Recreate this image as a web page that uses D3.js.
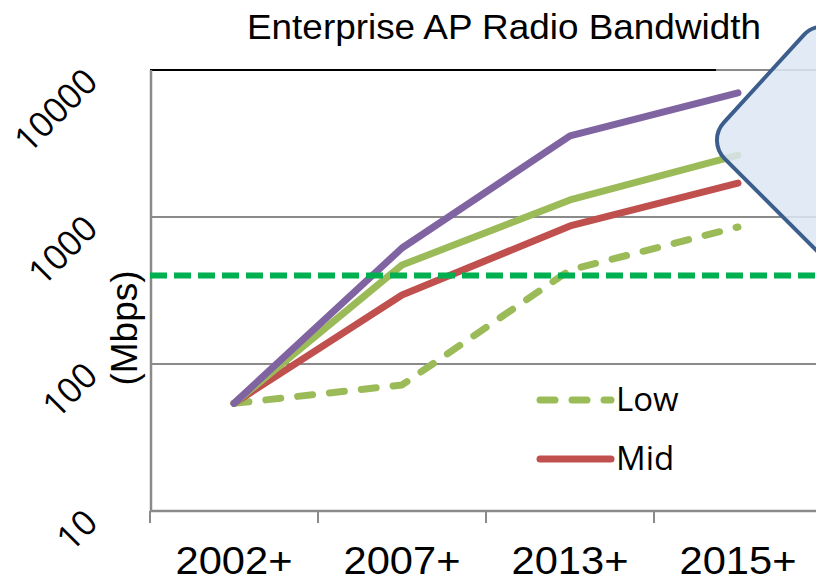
<!DOCTYPE html>
<html>
<head>
<meta charset="utf-8">
<script src="https://cdn.jsdelivr.net/npm/d3@7"></script>
<style>
  body { margin: 0; background: #fff; }
  text { fill: #000; }
</style>
</head>
<body>
<svg id="chart" width="816" height="580"></svg>
<script>
// Data (Mbps, log scale)
const years = ["2002+", "2007+", "2013+", "2015+"];
const lowValues = [54, 72, 436, 855];
const midValues = [54, 295, 869, 1700];
const highValues = [54, 471, 1306, 2640];
const topValues = [54, 615, 3560, 7000];
const referenceLevel = 400;
const yTicks = [10, 100, 1000, 10000];
const legendNames = ["Low", "Mid"];

const svg = d3.select("#chart");

// Scales
const x = d3.scaleBand().domain(years).range([150, 822]);
const y = d3.scaleLog().domain([10, 10000]).range([511, 70]);
const cx = d => x(d) + x.bandwidth() / 2;

// Title (slightly stretched like the original)
svg.append("text")
  .attr("x", 504).attr("y", 39)
  .attr("text-anchor", "middle")
  .attr("textLength", 514)
  .attr("lengthAdjust", "spacingAndGlyphs")
  .style("font-family", "Liberation Sans, Arial, sans-serif")
  .style("font-size", "35px")
  .text("Enterprise AP Radio Bandwidth");

// Gridlines
svg.selectAll(".grid")
  .data(yTicks.slice(1))
  .enter().append("line")
  .attr("class", "grid")
  .attr("x1", 150).attr("x2", 816)
  .attr("y1", d => y(d)).attr("y2", d => y(d))
  .attr("stroke", "#8a8a8a").attr("stroke-width", 2);

// top border drawn dark
svg.append("line")
  .attr("x1", 150).attr("x2", 716)
  .attr("y1", y(10000)).attr("y2", y(10000))
  .attr("stroke", "#000").attr("stroke-width", 2);

// Axes lines
svg.append("line")
  .attr("x1", 151).attr("x2", 151)
  .attr("y1", y(10000)).attr("y2", y(10))
  .attr("stroke", "#8a8a8a").attr("stroke-width", 2.5);
svg.append("line")
  .attr("x1", 150).attr("x2", 816)
  .attr("y1", y(10)).attr("y2", y(10))
  .attr("stroke", "#8a8a8a").attr("stroke-width", 2.5);

// x ticks at the band boundaries
svg.selectAll(".xtick")
  .data(years)
  .enter().append("line")
  .attr("class", "xtick")
  .attr("x1", d => x(d)).attr("x2", d => x(d))
  .attr("y1", y(10)).attr("y2", y(10) + 12)
  .attr("stroke", "#8a8a8a").attr("stroke-width", 2);

// x labels
svg.selectAll(".xlabel")
  .data(years)
  .enter().append("text")
  .attr("class", "xlabel")
  .attr("x", cx).attr("y", 574)
  .attr("text-anchor", "middle")
  .attr("textLength", 117)
  .attr("lengthAdjust", "spacingAndGlyphs")
  .style("font-family", "Liberation Sans, Arial, sans-serif")
  .style("font-size", "38px")
  .text(d => d);

// y labels, rotated
svg.selectAll(".ylabel")
  .data(yTicks)
  .enter().append("text")
  .attr("class", "ylabel")
  .attr("transform", d => `translate(91,${y(d) + 5}) rotate(-45)`)
  .attr("text-anchor", "end")
  .attr("dy", "0.35em")
  .style("font-family", "Open Sans, Noto Sans, sans-serif")
  .style("font-size", "35px")
  .text(d => d);

// axis title
svg.append("text")
  .attr("transform", "translate(137,328) rotate(-90)")
  .attr("text-anchor", "middle")
  .style("font-family", "Liberation Sans, Arial, sans-serif")
  .style("font-size", "37px")
  .text("(Mbps)");

// Series
const line = d3.line()
  .x((d, i) => cx(years[i]))
  .y(d => y(d));

const series = [
  { name: "Top", values: topValues, color: "#8064a2", dash: null },
  { name: "High", values: highValues, color: "#9bbb59", dash: null },
  { name: "Mid", values: midValues, color: "#c0504d", dash: null },
  { name: "Low", values: lowValues, color: "#9bbb59", dash: "15 17" }
];

svg.selectAll(".series")
  .data(series.slice().reverse())
  .enter().append("path")
  .attr("class", "series")
  .attr("d", d => line(d.values))
  .attr("fill", "none")
  .attr("stroke", d => d.color)
  .attr("stroke-width", 7)
  .attr("stroke-linecap", "round")
  .attr("stroke-linejoin", "round")
  .attr("stroke-dasharray", d => d.dash);

// reference level (dashed)
svg.append("line")
  .attr("x1", 150).attr("x2", 816)
  .attr("y1", y(referenceLevel)).attr("y2", y(referenceLevel))
  .attr("stroke", "#00b050").attr("stroke-width", 6)
  .attr("stroke-dasharray", "17 7");

// Callout shape at the right edge
const callout = [[707, 141], [822, 15], [1022, 215], [907, 341]];
const p = d3.path();
const r = 26;
const mid = [(callout[0][0] + callout[1][0]) / 2, (callout[0][1] + callout[1][1]) / 2];
p.moveTo(mid[0], mid[1]);
for (let i = 1; i <= 4; i++) {
  const a = callout[i % 4], b = callout[(i + 1) % 4];
  p.arcTo(a[0], a[1], b[0], b[1], r);
}
p.closePath();
svg.append("path")
  .attr("d", p.toString())
  .attr("fill", "#dce6f3")
  .attr("fill-opacity", 0.85)
  .attr("stroke", "#3b5e8c")
  .attr("stroke-width", 4);

// Legend
const legendSeries = legendNames.map(n => series.find(s => s.name === n));
const legend = svg.selectAll(".legend")
  .data(legendSeries)
  .enter().append("g")
  .attr("class", "legend")
  .attr("transform", (d, i) => `translate(540,${400 + i * 59})`);

legend.append("line")
  .attr("x1", 0).attr("x2", 71)
  .attr("stroke", d => d.color)
  .attr("stroke-width", 7)
  .attr("stroke-linecap", "round")
  .attr("stroke-dasharray", d => d.dash);

legend.append("text")
  .attr("x", 76).attr("y", 11)
  .style("font-family", "Open Sans, Noto Sans, sans-serif")
  .style("font-size", "33px")
  .text(d => d.name);
</script>
</body>
</html>
